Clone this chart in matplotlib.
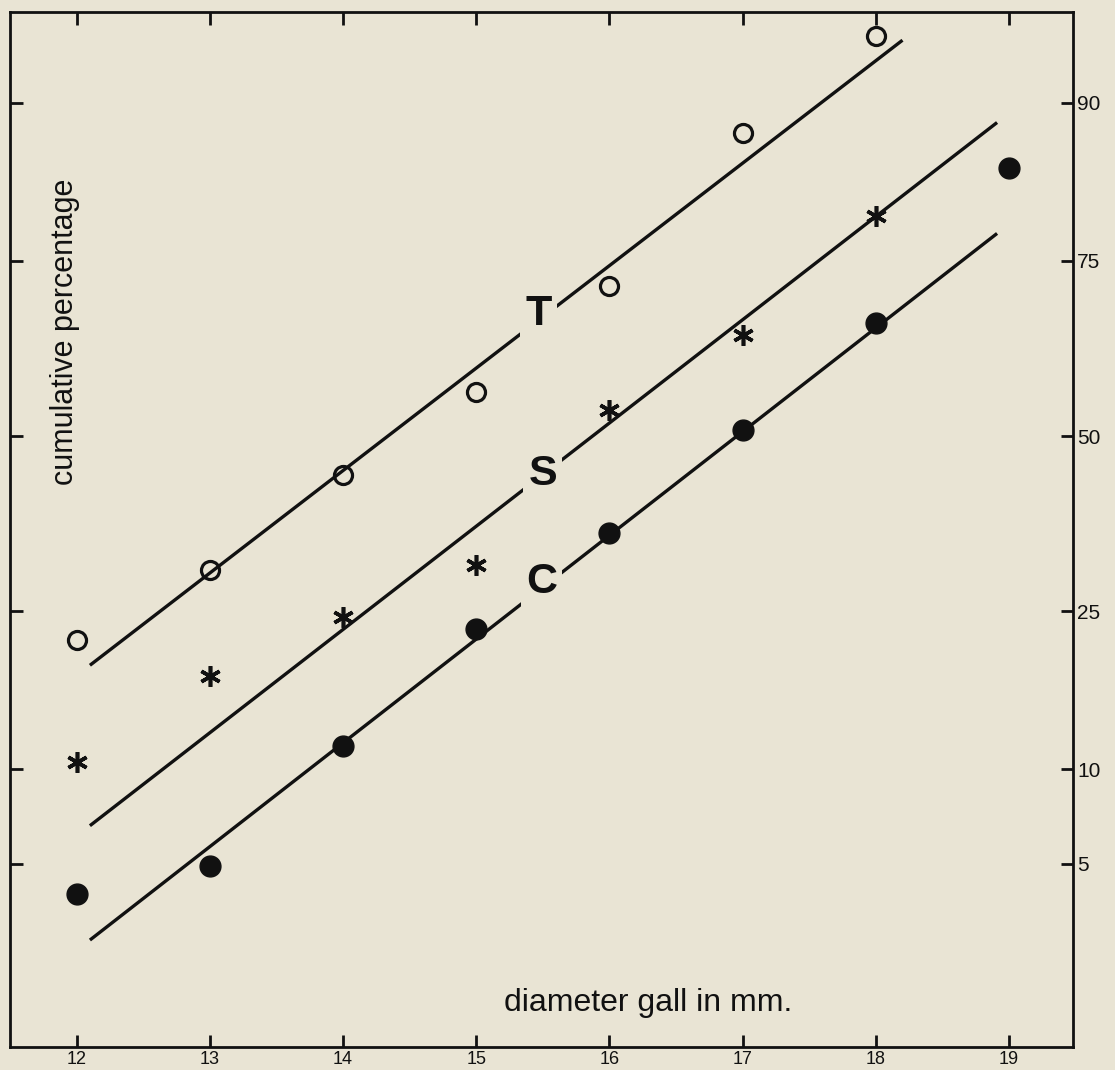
import numpy as np
import matplotlib
matplotlib.use("Agg")
import matplotlib.pyplot as plt
from statistics import NormalDist

# ---------------- data ----------------
x_T = [12, 13, 14, 15, 16, 17, 18]
pct_T = [21.6, 30.3, 44.0, 56.7, 71.8, 87.8, 93.8]

x_S = [12, 13, 14, 15, 16, 17, 18]
pct_S = [10.5, 17.8, 24.3, 31.0, 54.0, 65.1, 80.1]

x_C = [12, 13, 14, 15, 16, 17, 18, 19]
pct_C = [3.9, 4.9, 11.7, 22.9, 35.5, 50.9, 66.8, 84.9]

# fitted straight lines (end points on probability scale)
lineT_x = [12.1, 18.2]
lineT_pct = [18.9, 93.6]
lineS_x = [12.1, 18.91]
lineS_pct = [6.7, 88.6]
lineC_x = [12.1, 18.91]
lineC_pct = [2.63, 78.2]

line_labels = ["T", "S", "C"]
label_x = [15.47, 15.50, 15.49]
label_pct = [68.0, 44.2, 28.7]

x_ticks = [12, 13, 14, 15, 16, 17, 18, 19]
y_ticks = [5, 10, 25, 50, 75, 90]

xlabel = "diameter gall in mm."
ylabel = "cumulative percentage"

# ---------------- probability scale ----------------
ND = NormalDist()
_ppf = np.vectorize(ND.inv_cdf, otypes=[float])
_cdf = np.vectorize(ND.cdf, otypes=[float])


def fwd(p):
    p = np.clip(np.asarray(p, dtype=float) / 100.0, 1e-9, 1 - 1e-9)
    return _ppf(p)


def inv(z):
    return 100.0 * _cdf(np.asarray(z, dtype=float))


bg = "#e9e4d4"
ink = "#111111"

plt.rcParams["font.family"] = ["Liberation Sans", "DejaVu Sans"]

fig = plt.figure(figsize=(11.15, 10.70), dpi=100, facecolor=bg)
ax = fig.add_axes([10 / 1115, 23 / 1070, 1063 / 1115, 1035 / 1070])
ax.set_facecolor(bg)
ax.set_yscale("function", functions=(fwd, inv))
ax.set_xlim(11.5, 19.48)
ax.set_ylim(0.94, 94.85)

lw = 2.4
ax.plot(lineT_x, lineT_pct, color=ink, lw=lw, solid_capstyle="butt", zorder=2)
ax.plot(lineS_x, lineS_pct, color=ink, lw=lw, solid_capstyle="butt", zorder=2)
ax.plot(lineC_x, lineC_pct, color=ink, lw=lw, solid_capstyle="butt", zorder=2)

ax.plot(x_T, pct_T, ls="none", marker="o", ms=13, mfc="none", mec=ink, mew=2.3, zorder=4)
ax.plot(x_S, pct_S, ls="none", marker=(6, 2, 0), ms=15, mec=ink, mew=2.6, zorder=4)
ax.plot(x_C, pct_C, ls="none", marker="o", ms=15, mfc=ink, mec=ink, zorder=4)

for lab, lx, ly in zip(line_labels, label_x, label_pct):
    ax.text(lx, ly, lab, fontsize=31, fontweight="bold", ha="center", va="center",
            color=ink, zorder=3,
            bbox=dict(boxstyle="square,pad=0.12", fc=bg, ec="none"))

# axes styling
for sp in ax.spines.values():
    sp.set_linewidth(2.0)
    sp.set_color(ink)

ax.set_xticks(x_ticks)
ax.set_xticklabels([str(v) for v in x_ticks])
ax.tick_params(axis="x", which="both", direction="in", length=9, width=2,
               top=True, bottom=True, labeltop=False, labelbottom=True,
               labelsize=13, pad=3, colors=ink)

ax.set_yticks(y_ticks)
ax.set_yticklabels([str(v) for v in y_ticks])
ax.yaxis.set_minor_locator(matplotlib.ticker.NullLocator())
ax.tick_params(axis="y", which="both", direction="in", length=9, width=2,
               left=True, right=True, labelleft=False, labelright=True,
               labelsize=15, pad=3, colors=ink)

fig.text(65 / 1115, 1 - 332 / 1070, ylabel, rotation=90, fontsize=22,
         ha="center", va="center", color=ink)
fig.text(648 / 1115, 1 - 1003 / 1070, xlabel, fontsize=23,
         ha="center", va="center", color=ink)

fig.savefig("out.png", dpi=100, facecolor=bg)
